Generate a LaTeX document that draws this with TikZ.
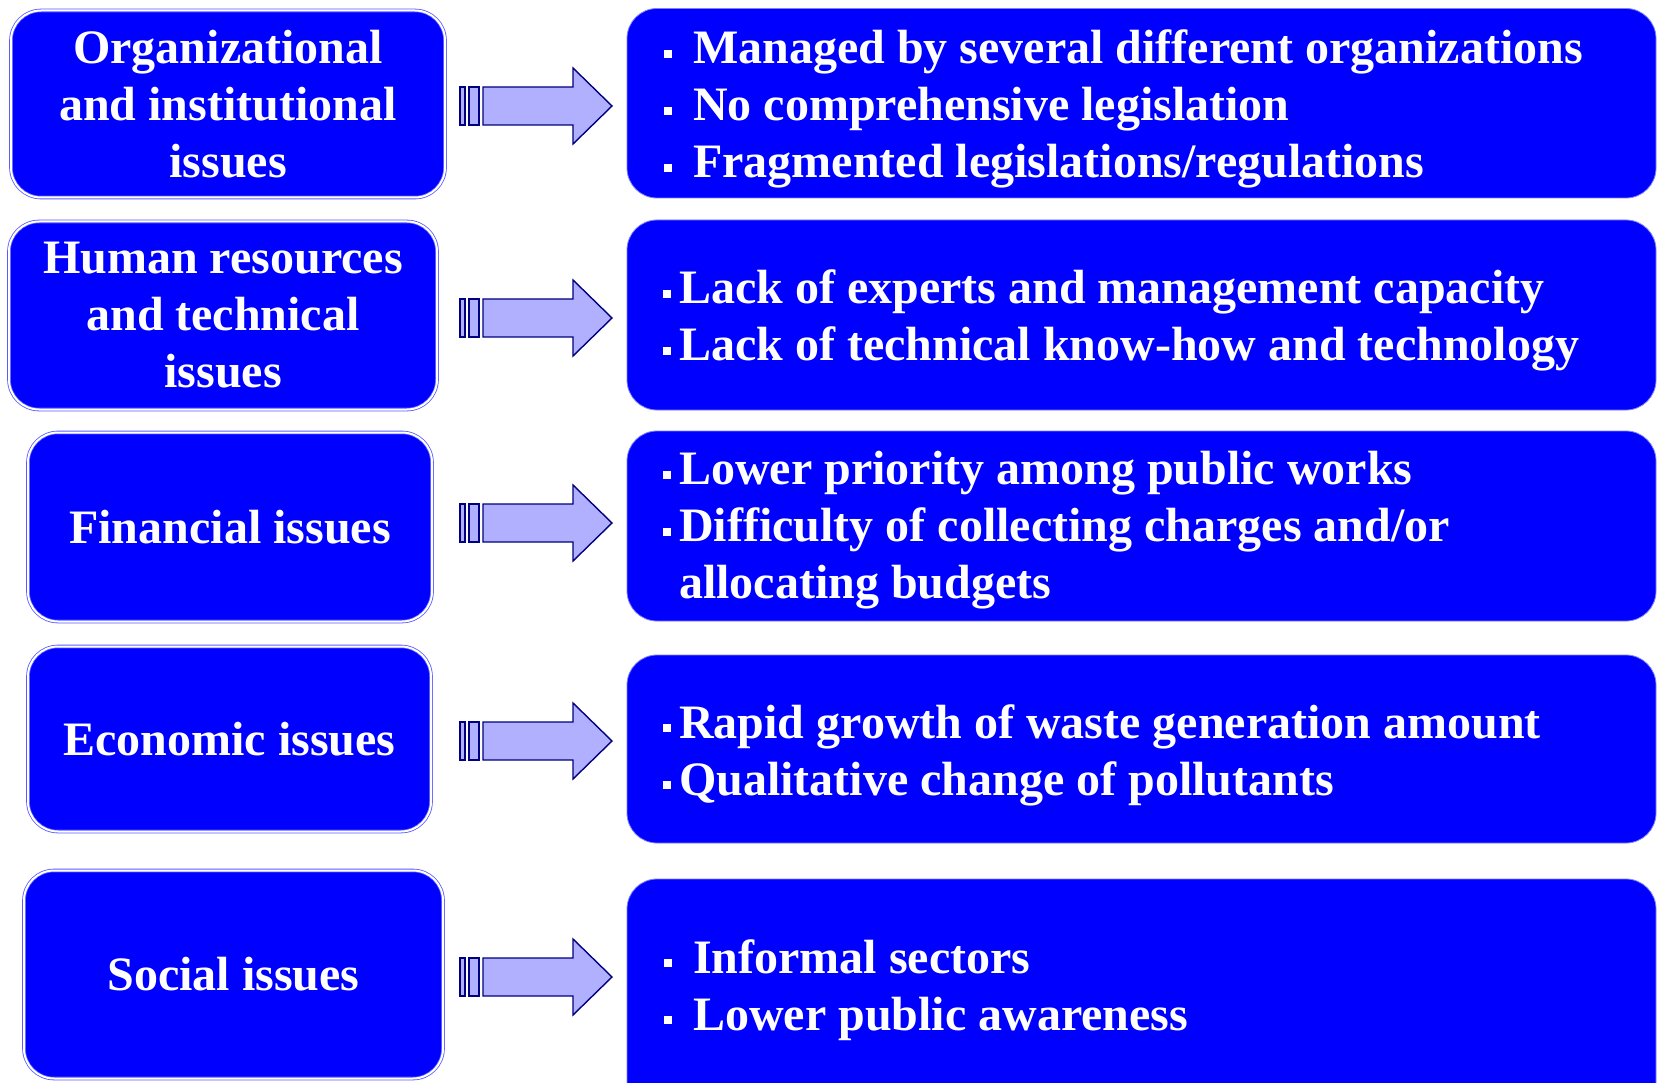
\documentclass[tikz,border=0pt]{standalone}
\usepackage{fontspec}
\setmainfont{Liberation Serif}
\definecolor{boxblue}{HTML}{0000FF}
\definecolor{edgeblue}{HTML}{5A5AFF}
\definecolor{rightedge}{HTML}{8080FF}
\definecolor{arrowfill}{HTML}{B0B0FF}
\definecolor{arrowedge}{HTML}{000080}
\newcommand\bigfont{\fontsize{48}{57}\selectfont\bfseries}
\newcommand\sqbul[1]{\rule[6pt]{8pt}{8pt}\hspace*{#1}}
\tikzset{
  leftbox/.style={rectangle, rounded corners=30pt, fill=boxblue, draw=edgeblue,
    double=white, double distance=2pt, line width=0.8pt, text=white,
    font=\bigfont, align=center, inner sep=0pt},
  rightbox/.style={rectangle, rounded corners=30pt, fill=boxblue, draw=rightedge,
    line width=0.8pt, inner sep=0pt},
  righttext/.style={text=white, font=\bigfont, align=left, inner sep=0pt, anchor=north west},
  arrowpart/.style={fill=arrowfill, draw=arrowedge, line width=1.4pt, line join=miter},
  bararrow/.pic={
    \draw[arrowpart] (0,-19) rectangle (5,19);
    \draw[arrowpart] (9,-19) rectangle (19,19);
    \draw[arrowpart] (23,-19) -- (113,-19) -- (113,-38) -- (152,0) -- (113,38) -- (113,19) -- (23,19) -- cycle;
  }
}
\begin{document}
\begin{tikzpicture}[x=1pt,y=-1pt]
\useasboundingbox (0,0) rectangle (1657,1083);
\clip (0,0) rectangle (1657,1083);
\fill[white] (0,0) rectangle (1657,1083);

% left boxes
\node[leftbox, minimum width=434pt, minimum height=187pt] (L1) at (228,104) {Organizational\\and institutional\\issues};
\node[leftbox, minimum width=428pt, minimum height=188pt] (L2) at (223,315.5) {Human resources\\and technical\\issues};
\node[leftbox, minimum width=404pt, minimum height=189pt] (L3) at (230,527) {Financial issues};
\node[leftbox, minimum width=403pt, minimum height=185pt] (L4) at (229.5,739) {Economic issues};
\node[leftbox, minimum width=419pt, minimum height=208pt] (L5) at (233.5,974.5) {Social issues};

% right boxes
\node[rightbox, minimum width=1029pt, minimum height=189.5pt] (R1) at (1141.5,103.25) {};
\node[rightbox, minimum width=1029pt, minimum height=190pt] (R2) at (1141.5,315) {};
\node[rightbox, minimum width=1029pt, minimum height=190pt] (R3) at (1141.5,526) {};
\node[rightbox, minimum width=1029pt, minimum height=188pt] (R4) at (1141.5,749) {};
\node[rightbox, minimum width=1029pt, minimum height=242pt] (R5) at (1141.5,1000) {};

% arrows
\coordinate (A1) at (460,106);
\coordinate (A2) at (460,318);
\coordinate (A3) at (460,523);
\coordinate (A4) at (460,741);
\coordinate (A5) at (460,977);
\foreach \a in {A1,A2,A3,A4,A5} { \pic at (\a) {bararrow}; }

% right texts
\node[righttext] (T1) at (664,30) {\sqbul{21pt}Managed by several different organizations\\\sqbul{21pt}No comprehensive legislation\\\sqbul{21pt}Fragmented legislations/regulations};
\node[righttext] (T2) at (663,270) {\sqbul{8pt}Lack of experts and management capacity\\\sqbul{8pt}Lack of technical know-how and technology};
\node[righttext] (T3) at (663,451) {\sqbul{8pt}Lower priority among public works\\\sqbul{8pt}Difficulty of collecting charges and/or\\\hspace*{16pt}allocating budgets};
\node[righttext] (T4) at (663,704) {\sqbul{8pt}Rapid growth of waste generation amount\\\sqbul{8pt}Qualitative change of pollutants};
\node[righttext] (T5) at (664,939) {\sqbul{21pt}Informal sectors\\\sqbul{21pt}Lower public awareness};
\end{tikzpicture}
\end{document}
